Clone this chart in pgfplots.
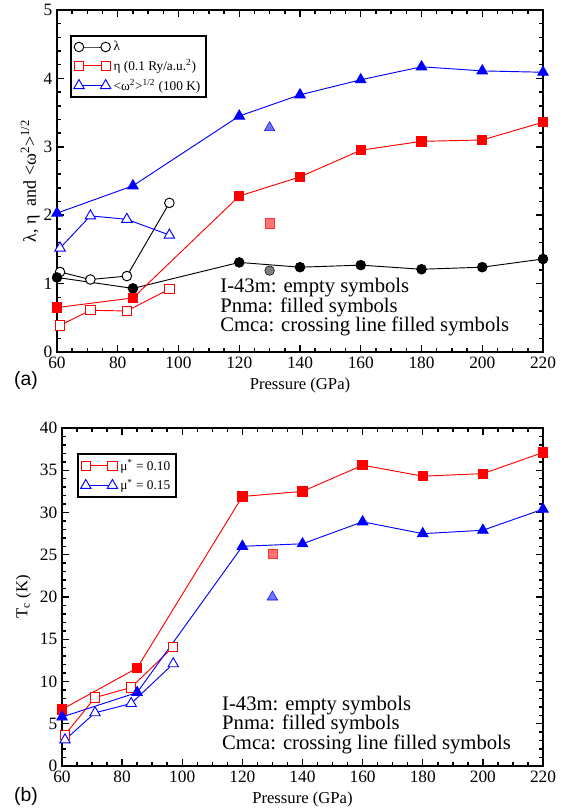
\documentclass[border=0pt]{standalone}
\usepackage{fontspec}
\setmainfont{Liberation Serif}
\newfontfamily\sansf{Liberation Sans}
\usepackage{pgfplots}
\pgfplotsset{compat=1.18}
\tikzset{txt/.style={anchor=north west, align=left, inner sep=0pt, font=\fontsize{15.5}{14.6}\selectfont}}
\pgfplotsset{
  base/.style={
    scale only axis, clip=false,
    xmin=60, xmax=220, xtick={60,80,...,220}, minor x tick num=3,
    axis line style={line width=1.4pt},
    every tick/.style={line width=1.1pt, black},
    major tick length=5pt, minor tick length=3pt,
    tick align=inside, xtick pos=both, ytick pos=both,
    tick label style={font=\fontsize{13}{13}\selectfont},
    /pgf/number format/assume math mode=true,
    label style={font=\fontsize{12.5}{14}\selectfont},
    xlabel={Pressure (GPa)},
    legend cell align=left,
    legend style={draw=black, line width=1.5pt, font=\fontsize{10}{12}\selectfont,
      inner sep=2pt, row sep=1pt},
    legend image code/.code={\draw[mark repeat=2, mark phase=1] plot coordinates {(0pt,0pt)(10pt,0pt)(20pt,0pt)};},
  },
  ln/.style={line width=0.7pt},
  mc/.style={mark=*, mark size=3.6pt},
  ms/.style={mark=square*, mark size=3.5pt},
  mt/.style={mark=triangle*, mark size=4.5pt},
}
\begin{document}
\begin{tikzpicture}
\useasboundingbox (0,0) rectangle (423.75pt,-606pt);
\begin{axis}[base, at={(42.75pt,-264pt)}, anchor=south west,
  width=364.5pt, height=256.5pt,
  ymin=0, ymax=5, ytick={0,1,...,5}, minor y tick num=4,
  ylabel={λ, η~ and <ω\textsuperscript{2}>\textsuperscript{1/2}},
  ylabel style={font=\fontsize{13.5}{15}\selectfont}, ylabel shift=-4pt,
  legend style={at={(rel axis cs:0.027,0.927)}, anchor=north west}]
\addplot[ln, black, mc, mark options={fill=white}] coordinates {(61,1.17)(71,1.06)(83,1.11)(97,2.18)};
\addlegendentry{λ}
\addplot[ln, red, ms, mark options={fill=white}] coordinates {(61,0.39)(71,0.61)(83,0.60)(97,0.92)};
\addlegendentry{η (0.1 Ry/a.u.\textsuperscript{2})}
\addplot[ln, blue, mt, mark options={fill=white}] coordinates {(61,1.52)(71,1.99)(83,1.94)(97,1.71)};
\addlegendentry{<ω\textsuperscript{2}>\textsuperscript{1/2} (100 K)}
\addplot[ln, black, mc, forget plot] coordinates {(60,1.09)(85,0.93)(120,1.31)(140,1.24)(160,1.27)(180,1.21)(200,1.24)(220,1.36)};
\addplot[ln, red, ms, forget plot] coordinates {(60,0.65)(85,0.79)(120,2.28)(140,2.56)(160,2.95)(180,3.08)(200,3.10)(220,3.36)};
\addplot[ln, blue, mt, forget plot] coordinates {(60,2.03)(85,2.43)(120,3.45)(140,3.76)(160,3.98)(180,4.17)(200,4.11)(220,4.09)};
\addplot[only marks, mc, mark options={draw=black, fill=gray}, forget plot] coordinates {(130,1.19)};
\addplot[only marks, ms, mark options={draw=red!80, fill=red!55}, forget plot] coordinates {(130,1.88)};
\addplot[only marks, mt, mark options={draw=blue, fill=blue!55}, forget plot] coordinates {(130,3.28)};
\node[txt] at (axis cs:113.7,1.08) {I-43m: empty symbols\\Pnma: filled symbols\\Cmca: crossing line filled symbols};
\end{axis}
\node[font=\sansf\fontsize{14.5}{14.5}\selectfont] at (19.5pt,-285.5pt) {(a)};
\begin{axis}[base, at={(46.5pt,-574.5pt)}, anchor=south west,
  width=360.75pt, height=253.5pt,
  ymin=0, ymax=40, ytick={0,5,...,40}, minor y tick num=4,
  ylabel={T\textsubscript{c} (K)},
  legend style={at={(rel axis cs:0.031,0.926)}, anchor=north west}]
\addplot[ln, red, ms, mark options={fill=white}] coordinates {(61,3.7)(71,8.1)(83,9.3)(97,14.1)};
\addlegendentry{μ\textsuperscript{*} = 0.10}
\addplot[ln, blue, mt, mark options={fill=white}] coordinates {(61,3.1)(71,6.3)(83,7.4)(97,12.1)};
\addlegendentry{μ\textsuperscript{*} = 0.15}
\addplot[ln, red, ms, forget plot] coordinates {(60,6.7)(85,11.6)(120,31.9)(140,32.5)(160,35.6)(180,34.3)(200,34.6)(220,37.1)};
\addplot[ln, blue, mt, forget plot] coordinates {(60,5.8)(85,8.7)(120,26.0)(140,26.3)(160,28.9)(180,27.5)(200,27.9)(220,30.4)};
\addplot[only marks, ms, mark options={draw=red!80, fill=red!55}, forget plot] coordinates {(130,25.1)};
\addplot[only marks, mt, mark options={draw=blue, fill=blue!55}, forget plot] coordinates {(130,20.0)};
\node[txt] at (axis cs:113.2,8.3) {I-43m: empty symbols\\Pnma: filled symbols\\Cmca: crossing line filled symbols};
\end{axis}
\node[font=\sansf\fontsize{14.5}{14.5}\selectfont] at (19.5pt,-597pt) {(b)};
\end{tikzpicture}
\end{document}
